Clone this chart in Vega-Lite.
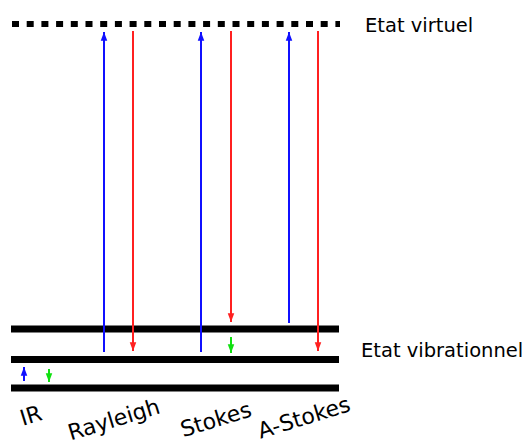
{
  "$schema": "https://vega.github.io/schema/vega-lite/v6.json",
  "width": 532,
  "height": 444,
  "autosize": {"type": "none"},
  "padding": 0,
  "background": "white",
  "config": {"view": {"stroke": null}},
  "datasets": {
    "virtual": [{"x": 12, "x2": 340, "y": 24}],
    "levels": [
      {"x": 11, "x2": 339, "y": 329},
      {"x": 11, "x2": 339, "y": 359.5},
      {"x": 11, "x2": 339, "y": 388}
    ],
    "arrows": [
      {"name": "IR up", "x": 24, "y": 381, "y2": 367, "kind": "excitation", "dir": "up"},
      {"name": "IR down", "x": 49, "y": 369, "y2": 382, "kind": "vibration", "dir": "down"},
      {"name": "Rayleigh up", "x": 104, "y": 352, "y2": 32, "kind": "excitation", "dir": "up"},
      {"name": "Rayleigh down", "x": 133, "y": 31, "y2": 351, "kind": "emission", "dir": "down"},
      {"name": "Stokes up", "x": 201, "y": 352, "y2": 32, "kind": "excitation", "dir": "up"},
      {"name": "Stokes down", "x": 231, "y": 31, "y2": 322, "kind": "emission", "dir": "down"},
      {"name": "Stokes relax", "x": 231, "y": 337, "y2": 353, "kind": "vibration", "dir": "down"},
      {"name": "A-Stokes up", "x": 289, "y": 323, "y2": 32, "kind": "excitation", "dir": "up"},
      {"name": "A-Stokes down", "x": 318, "y": 31, "y2": 351, "kind": "emission", "dir": "down"}
    ],
    "labels": [
      {"label": "IR", "x": 31, "y": 416},
      {"label": "Rayleigh", "x": 114, "y": 420},
      {"label": "Stokes", "x": 216, "y": 420},
      {"label": "A-Stokes", "x": 304, "y": 418}
    ],
    "states": [
      {"label": "Etat virtuel", "x": 365, "y": 32},
      {"label": "Etat vibrationnel", "x": 361, "y": 357}
    ]
  },
  "layer": [
    {
      "data": {"name": "virtual"},
      "mark": {"type": "rule", "color": "black", "strokeWidth": 6, "strokeDash": [7, 7.7]},
      "encoding": {
        "x": {"field": "x", "type": "quantitative", "scale": {"domain": [0, 532], "nice": false, "zero": false}, "axis": null},
        "x2": {"field": "x2"},
        "y": {"field": "y", "type": "quantitative", "scale": {"domain": [0, 444], "reverse": true, "nice": false, "zero": false}, "axis": null}
      }
    },
    {
      "data": {"name": "levels"},
      "mark": {"type": "rule", "color": "black", "strokeWidth": 7},
      "encoding": {
        "x": {"field": "x", "type": "quantitative", "scale": {"domain": [0, 532], "nice": false, "zero": false}, "axis": null},
        "x2": {"field": "x2"},
        "y": {"field": "y", "type": "quantitative", "scale": {"domain": [0, 444], "reverse": true, "nice": false, "zero": false}, "axis": null}
      }
    },
    {
      "data": {"name": "arrows"},
      "mark": {"type": "rule", "strokeWidth": 2},
      "encoding": {
        "x": {"field": "x", "type": "quantitative", "scale": {"domain": [0, 532], "nice": false, "zero": false}, "axis": null},
        "y": {"field": "y", "type": "quantitative", "scale": {"domain": [0, 444], "reverse": true, "nice": false, "zero": false}, "axis": null},
        "y2": {"field": "y2"},
        "color": {"field": "kind", "type": "nominal", "scale": {"domain": ["excitation", "emission", "vibration"], "range": ["#1010ff", "#ff2020", "#10e010"]}, "legend": null}
      }
    },
    {
      "data": {"name": "arrows"},
      "mark": {"type": "point", "filled": true, "opacity": 1, "size": 76, "strokeWidth": 0},
      "encoding": {
        "x": {"field": "x", "type": "quantitative", "scale": {"domain": [0, 532], "nice": false, "zero": false}, "axis": null},
        "y": {"field": "y2", "type": "quantitative", "scale": {"domain": [0, 444], "reverse": true, "nice": false, "zero": false}, "axis": null},
        "shape": {"field": "dir", "type": "nominal", "scale": {"domain": ["up", "down"], "range": ["M-0.75,2L0.75,2L0,0Z", "M-0.75,-2L0.75,-2L0,0Z"]}, "legend": null},
        "color": {"field": "kind", "type": "nominal", "scale": {"domain": ["excitation", "emission", "vibration"], "range": ["#1010ff", "#ff2020", "#10e010"]}, "legend": null}
      }
    },
    {
      "data": {"name": "labels"},
      "mark": {"type": "text", "font": "DejaVu Sans", "fontSize": 22, "angle": -17, "align": "center", "baseline": "middle", "color": "black"},
      "encoding": {
        "x": {"field": "x", "type": "quantitative", "scale": {"domain": [0, 532], "nice": false, "zero": false}, "axis": null},
        "y": {"field": "y", "type": "quantitative", "scale": {"domain": [0, 444], "reverse": true, "nice": false, "zero": false}, "axis": null},
        "text": {"field": "label"}
      }
    },
    {
      "data": {"name": "states"},
      "mark": {"type": "text", "font": "DejaVu Sans", "fontSize": 19.5, "align": "left", "baseline": "alphabetic", "color": "black"},
      "encoding": {
        "x": {"field": "x", "type": "quantitative", "scale": {"domain": [0, 532], "nice": false, "zero": false}, "axis": null},
        "y": {"field": "y", "type": "quantitative", "scale": {"domain": [0, 444], "reverse": true, "nice": false, "zero": false}, "axis": null},
        "text": {"field": "label"}
      }
    }
  ]
}
